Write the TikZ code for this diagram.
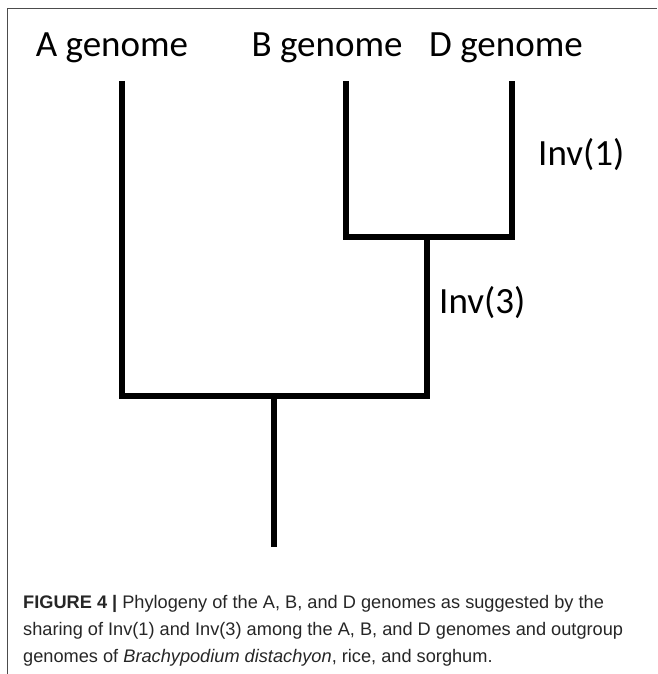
\documentclass[tikz,border=0pt]{standalone}
\usepackage{fontspec}
\setmainfont{Carlito}
\newfontfamily\capfont{Liberation Sans}
\begin{document}
\begin{tikzpicture}[x=1pt,y=-1pt,
  branch/.style={line width=6pt,line join=miter,line cap=butt,black},
  taxon/.style={font=\fontsize{37}{40}\selectfont,anchor=base,inner sep=0pt},
  event/.style={font=\fontsize{37}{40}\selectfont,anchor=base west,inner sep=0pt},
  frame/.style={line width=1.5pt,draw=black!70}]
\useasboundingbox (0,0) rectangle (657,674);
\draw[frame] (7.5,674) -- (7.5,8.5) -- (657,8.5);
% labels
\node[taxon] (A) at (112,57) {A genome};
\node[taxon] (B) at (327,57) {B genome};
\node[taxon] (D) at (506,57) {D genome};
\node[event] (inv1) at (538,165) {Inv(1)};
\node[event] (inv3) at (439,313) {Inv(3)};
% tree coordinates
\coordinate (Atop) at (122,81);
\coordinate (Btop) at (346,81);
\coordinate (Dtop) at (512,81);
\coordinate (Bc) at (346,237);
\coordinate (Dc) at (512,237);
\coordinate (BD) at (427,237);
\coordinate (Ac) at (122,396);
\coordinate (BDc) at (427,396);
\coordinate (root) at (273.5,396);
\coordinate (rootend) at (273.5,547);
\draw[branch] (Btop) -- (Bc) -- (Dc) -- (Dtop);
\draw[branch] (Atop) -- (Ac) -- (BDc) -- (BD);
\draw[branch] (root) -- (rootend);
% caption
\node[anchor=base west,inner sep=0pt,align=left,font=\capfont\fontsize{18.2}{27}\selectfont,text=black!85] (cap) at (23,662)
 {\textbf{FIGURE 4 |} Phylogeny of the A, B, and D genomes as suggested by the\\
 sharing of Inv(1) and Inv(3) among the A, B, and D genomes and outgroup\\
 genomes of \textit{Brachypodium distachyon}, rice, and sorghum.};
\end{tikzpicture}
\end{document}
